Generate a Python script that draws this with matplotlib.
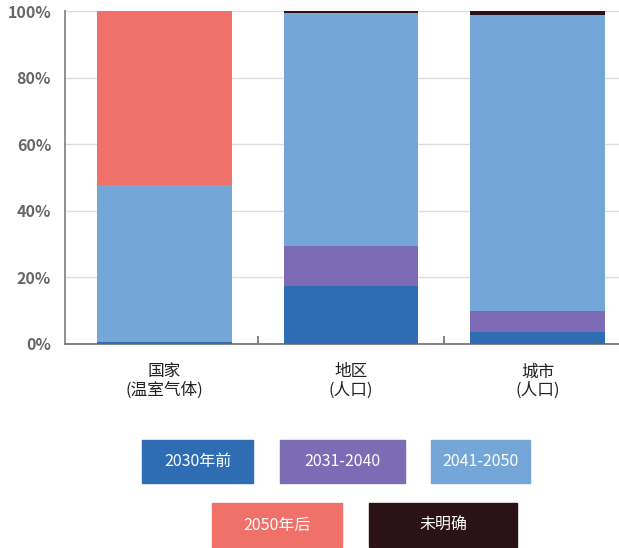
import matplotlib
matplotlib.use("Agg")
import matplotlib.pyplot as plt
from matplotlib.patches import Rectangle
import numpy as np

plt.rcParams['font.family'] = ['Noto Sans CJK SC', 'DejaVu Sans']

categories = ["国家\n(温室气体)", "地区\n(人口)", "城市\n(人口)"]
series_names = ["2030年前", "2031-2040", "2041-2050", "2050年后", "未明确"]
before_2030 = [0.5, 17.5, 3.6]
s2031_2040 = [0.0, 12.0, 6.3]
s2041_2050 = [47.2, 69.8, 88.9]
after_2050 = [52.3, 0.0, 0.0]
unclear = [0.0, 0.7, 1.2]
colors = ["#2E6DB4", "#7D6BB5", "#74A7D8", "#F0706A", "#2B1216"]
yticks = [0, 20, 40, 60, 80, 100]
ytick_labels = ["0%", "20%", "40%", "60%", "80%", "100%"]

W, H = 619, 548
fig = plt.figure(figsize=(W / 100, H / 100), dpi=100)
ax = fig.add_axes([65 / W, (H - 344) / H, (W - 65) / W, 333 / H])

series = [before_2030, s2031_2040, s2041_2050, after_2050, unclear]
x = np.arange(len(categories))
bottom = np.zeros(len(categories))
for vals, c, name in zip(series, colors, series_names):
    ax.bar(x, vals, 0.72, bottom=bottom, color=c, label=name, zorder=3)
    bottom += np.array(vals)

ax.set_xlim(-0.534, 2.437)
ax.set_ylim(0, 100)
ax.set_yticks(yticks)
ax.set_yticklabels(ytick_labels, color="#666666", fontsize=11.5, fontweight="bold")
ax.yaxis.grid(True, color="#dddddd", linewidth=1, zorder=0)
ax.set_axisbelow(True)
for s in ["top", "right"]:
    ax.spines[s].set_visible(False)
ax.spines["left"].set_color("#888888")
ax.spines["left"].set_linewidth(1.3)
ax.spines["bottom"].set_color("#777777")
ax.spines["bottom"].set_linewidth(1.3)
ax.tick_params(axis="y", length=0, pad=10)
ax.set_xticks(x)
ax.set_xticklabels(categories, fontsize=12, color="#222222", linespacing=1.1)
ax.tick_params(axis="x", length=0, pad=14)
ax.set_xticks([0.5, 1.5], minor=True)
ax.tick_params(axis="x", which="minor", direction="in", length=6, color="#777777", width=1.3)

# legend boxes (figure pixel coords, top-down)
boxes = [(142, 440, 111, 43), (280, 440, 125, 43), (431, 440, 99, 43),
         (212, 503, 130, 44), (369, 503, 148, 44)]
for (bx, by, bw, bh), c, name in zip(boxes, colors, series_names):
    fig.patches.append(Rectangle((bx / W, 1 - (by + bh) / H), bw / W, bh / H,
                                 transform=fig.transFigure, color=c, figure=fig))
    fig.text((bx + bw / 2) / W, 1 - (by + bh / 2) / H, name, color="white",
             fontsize=11.5, ha="center", va="center")

fig.savefig("out.png", dpi=100)
